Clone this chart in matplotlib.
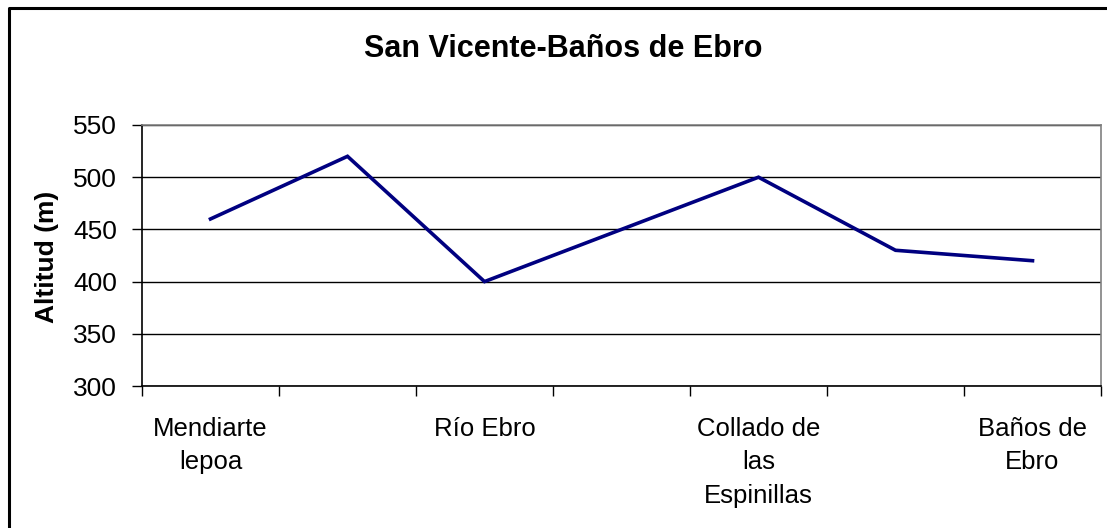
import matplotlib
matplotlib.use("Agg")
import matplotlib.pyplot as plt
from matplotlib.lines import Line2D

plt.rcParams['font.family'] = ['Liberation Sans', 'DejaVu Sans']

# Altitude profile data
altitudes = [460, 520, 400, 450, 500, 430, 420]
tick_labels = ['Mendiarte\nlepoa', '', 'Río Ebro', '', 'Collado de\nlas\nEspinillas', '', 'Baños de\nEbro']
y_ticks = [300, 350, 400, 450, 500, 550]

fig = plt.figure(figsize=(11.07, 5.28), dpi=100)
ax = fig.add_axes([142 / 1107, 1 - 386 / 528, (1101 - 142) / 1107, (386 - 125) / 528])

x = list(range(len(altitudes)))
ax.plot(x, altitudes, color='#000080', linewidth=2.6, solid_joinstyle='miter')

ax.set_xlim(-0.5, len(altitudes) - 0.5)
ax.set_ylim(300, 550)
ax.set_yticks(y_ticks)
ax.set_yticklabels([str(v) for v in y_ticks], fontsize=19)

# category labels centred, tick marks between categories
ax.set_xticks(x)
ax.set_xticklabels(tick_labels, fontsize=18.5, va='top', linespacing=1.5)
ax.set_xticks([i - 0.5 for i in range(len(altitudes) + 1)], minor=True)
ax.tick_params(axis='x', which='major', length=0, pad=22)
ax.tick_params(axis='x', which='minor', length=7, width=1, color='black', direction='out')
ax.tick_params(axis='y', length=7, width=1, color='black', direction='out', pad=11)

ax.grid(axis='y', color='black', linewidth=1)
ax.set_axisbelow(True)

ax.spines['left'].set_color('black')
ax.spines['bottom'].set_color('black')
ax.spines['top'].set_color('#808080')
ax.spines['right'].set_color('#808080')
for s in ax.spines.values():
    s.set_linewidth(1.2)

fig.text(563 / 1107, 1 - 49 / 528, 'San Vicente-Baños de Ebro', fontsize=22,
         fontweight='bold', ha='center', va='center')
fig.text(47 / 1107, 1 - 257 / 528, 'Altitud (m)', fontsize=19, fontweight='bold',
         rotation=90, ha='center', va='center')

# chart frame (top and left edges visible)
fig.add_artist(Line2D([9 / 1107, 9 / 1107, 1.0], [0.0, 1 - 8 / 528, 1 - 8 / 528],
                      transform=fig.transFigure, color='black', linewidth=2.2))

fig.savefig('out.png', dpi=100)
